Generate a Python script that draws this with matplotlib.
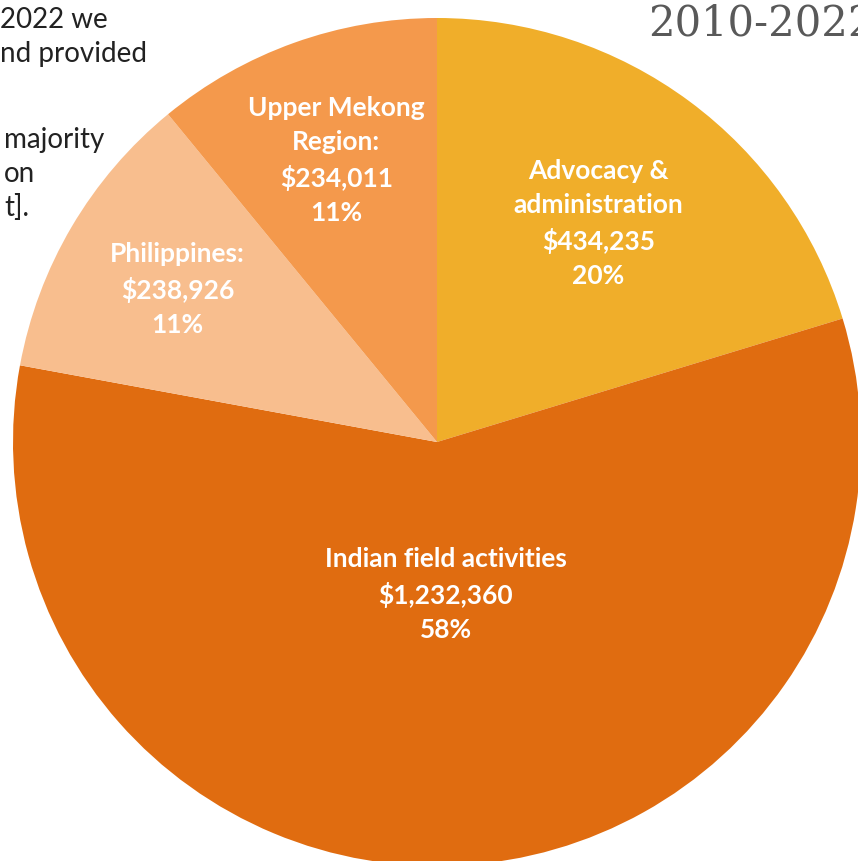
#!/usr/bin/env python3
"""
Pie chart of spending 2010-2022 (cropped slide)
"""

import numpy as np
import matplotlib.pyplot as plt

# -------------------------------
# Data
# -------------------------------
categories = ["Advocacy &\nadministration", "Indian field activities",
              "Philippines:", "Upper Mekong\nRegion:"]
amounts = [434235, 1232360, 238926, 234011]
amount_labels = ["$434,235", "$1,232,360", "$238,926", "$234,011"]
pct_labels = ["20%", "58%", "11%", "11%"]
colors = ["#F0AE2A", "#E06C10", "#F8BE8E", "#F4994C"]

# radial position of each label (fraction of radius)
label_dist = [0.64, 0.36, 0.71, 0.705]

body_lines = ["2022 we", "nd provided", "majority", "on", "t]."]
title_text = "2010-2022"

# -------------------------------
# Figure
# -------------------------------
W, H = 858, 861
fig = plt.figure(figsize=(W / 100, H / 100), dpi=100)
ax = fig.add_axes([0, 0, 1, 1])

cx, cy, r = 437, H - 442, 424

wedges, _ = ax.pie(amounts, colors=colors, startangle=90, counterclock=False,
                   center=(cx, cy), radius=r, frame=True,
                   wedgeprops=dict(linewidth=0))
ax.set_xlim(0, W)
ax.set_ylim(0, H)
ax.set_aspect("equal")
ax.axis("off")

for w, cat, amt, pct, d in zip(wedges, categories, amount_labels, pct_labels, label_dist):
    mid = np.deg2rad((w.theta1 + w.theta2) / 2)
    x = cx + d * r * np.cos(mid)
    y = cy + d * r * np.sin(mid)
    ax.text(x, y, f"{cat}\n{amt}\n{pct}", ha="center", va="center",
            color="white", fontsize=19, fontweight="bold", family="Lato",
            linespacing=1.5)

# cropped slide text on the left
line_y = [20, 54, 140, 174, 208]
for line, yy in zip(body_lines, line_y):
    x = 0 if yy < 100 else 4
    ax.text(x, H - yy, line, ha="left", va="center", fontsize=20,
            family="Lato", color="#222222")

# cropped title on the right
ax.text(648, H - 24, title_text, ha="left", va="center", fontsize=30,
        family="DejaVu Serif", color="#595959")

fig.savefig("out.png", dpi=100)
